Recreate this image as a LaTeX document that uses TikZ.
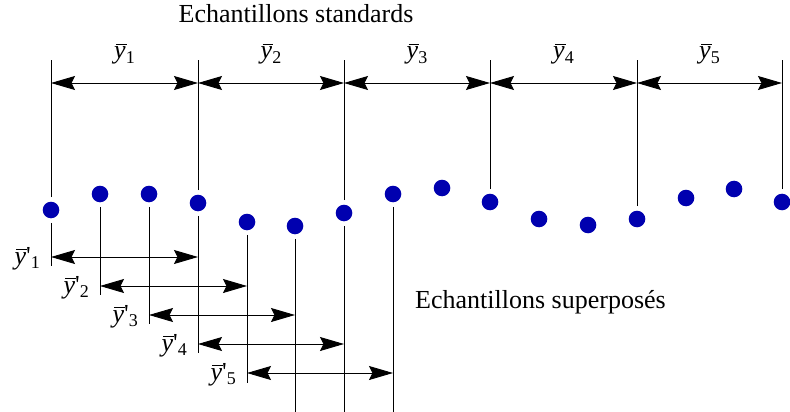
\documentclass[tikz,border=0pt]{standalone}
\usepackage{fontspec}
\setmainfont{Liberation Serif}
\usetikzlibrary{arrows.meta}
\definecolor{dotblue}{RGB}{0,0,175}
\newcommand\subfnt{\fontsize{18}{18}\selectfont}
\newcommand\ybase{\mbox{\rlap{\hspace{0.07em}\rule[0.52em]{0.42em}{1.1pt}}\textit{y}}}
\newcommand\yb[1]{\ybase\raisebox{-0.17em}{\subfnt #1}}
\newcommand\ybp[1]{\ybase\textquotesingle\raisebox{-0.17em}{\subfnt #1}}
\begin{document}
\begin{tikzpicture}[x=1pt,y=-1pt,font=\fontsize{26}{30}\selectfont,
  dot/.style={circle,fill=dotblue,inner sep=0pt,minimum size=16.6pt,outer sep=4.5pt},
  ln/.style={line width=0.9pt},
  dim/.style={line width=0.9pt,{Stealth[length=24pt,width=14pt,inset=3.5pt]}-{Stealth[length=24pt,width=14pt,inset=3.5pt]}},
  lbl/.style={inner sep=0pt,anchor=base}]
\useasboundingbox (0,0) rectangle (790,412);
\foreach \i/\x/\y in {1/51/210,2/100/194,3/149/194,4/198/203,5/247/222,6/295/226,7/344/213,8/393/194,9/442/188,10/490/202,11/539/219,12/588/225,13/637/219,14/686/198,15/734/189,16/782/202}
  \node[dot] (d\i) at (\x,\y) {};
\coordinate (topY) at (0,60);
\coordinate (arrY) at (0,83);
% top vertical lines
\foreach \i in {1,4,7,10,13,16}
  \draw[ln] (d\i.north) -- (d\i.north |- topY);
% top dimension arrows
\foreach \a/\b in {1/4,4/7,7/10,10/13,13/16}
  \draw[dim] (d\a |- arrY) -- (d\b |- arrY);
% top labels
\node[lbl] (t1) at (124.5,59) {\yb{1}};
\node[lbl] (t2) at (271,59) {\yb{2}};
\node[lbl] (t3) at (417,59) {\yb{3}};
\node[lbl] (t4) at (563.5,59) {\yb{4}};
\node[lbl] (t5) at (709.5,59) {\yb{5}};
% bottom vertical lines
\foreach \i/\e in {1/266,2/295,3/324,4/353,5/383,6/412,7/412,8/412}{
  \coordinate (e\i) at (0,\e);
  \draw[ln] (d\i.south) -- (d\i.south |- e\i);
}
% bottom dimension arrows
\foreach \k/\y in {1/257,2/286,3/315,4/344,5/373}{
  \coordinate (b\k) at (0,\y);
}
\draw[dim] (d1 |- b1) -- (d4 |- b1);
\draw[dim] (d2 |- b2) -- (d5 |- b2);
\draw[dim] (d3 |- b3) -- (d6 |- b3);
\draw[dim] (d4 |- b4) -- (d7 |- b4);
\draw[dim] (d5 |- b5) -- (d8 |- b5);
% bottom labels
\node[lbl,anchor=base east] (p1) at (40,264) {\ybp{1}};
\node[lbl,anchor=base east] (p2) at (89,293) {\ybp{2}};
\node[lbl,anchor=base east] (p3) at (138,322) {\ybp{3}};
\node[lbl,anchor=base east] (p4) at (187,351) {\ybp{4}};
\node[lbl,anchor=base east] (p5) at (236,380) {\ybp{5}};
% texts
\node[lbl] (title) at (296,23) {Echantillons standards};
\node[lbl,anchor=base west] (sup) at (415,308) {Echantillons superposés};
\end{tikzpicture}
\end{document}
